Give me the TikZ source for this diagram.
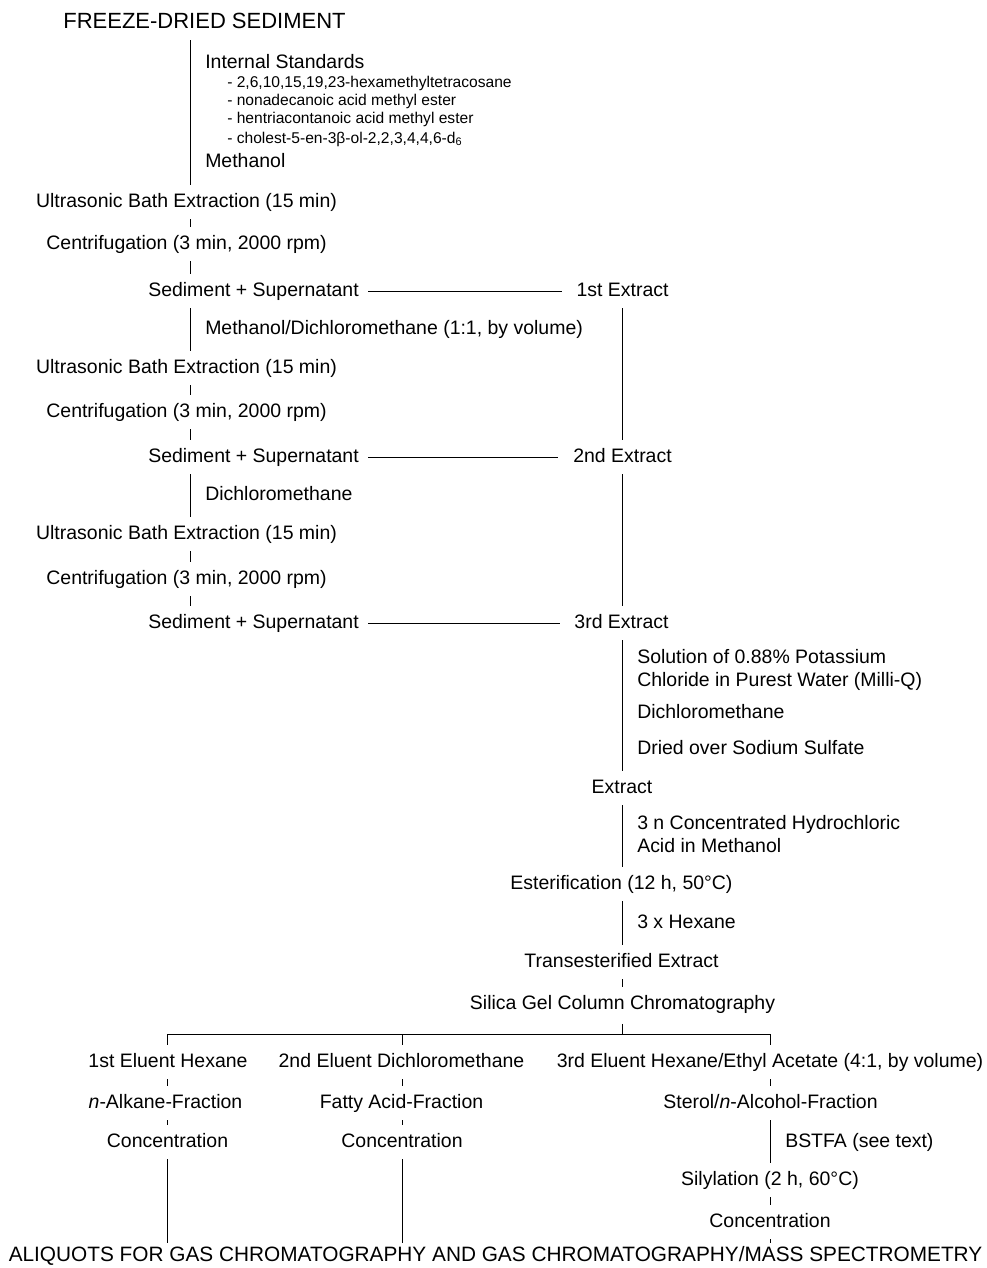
\documentclass[tikz,border=0pt]{standalone}
\usepackage{fontspec}
\setmainfont{Liberation Sans}
\newcommand\mainsz{\fontsize{14.6pt}{17pt}\selectfont}
\newcommand\capsz{\fontsize{15.6pt}{18pt}\selectfont}
\newcommand\titlesz{\fontsize{16.5pt}{19pt}\selectfont}
\newcommand\smallsz{\fontsize{11.7pt}{14pt}\selectfont}
\tikzset{
  t/.style={inner sep=0pt, font=\mainsz, text height=10.5pt, text depth=3pt},
  tc/.style={t, font=\capsz},
  s/.style={inner sep=0pt, font=\smallsz, anchor=west},
  conn/.style={draw, line width=0.6pt, shorten <=6pt, shorten >=6pt},
  hlink/.style={draw, line width=0.6pt, shorten <=7pt, shorten >=11pt},
  plain/.style={draw, line width=0.6pt}
}
\begin{document}
\begin{tikzpicture}[x=0.75pt, y=-0.75pt]
\useasboundingbox (0,0) rectangle (987,1268);
\begin{scope}[shift={(0,2)}]
\coordinate (L) at (190,0);
\coordinate (R) at (622,0);
\coordinate (C1) at (167,0);
\coordinate (C2) at (402,0);
\coordinate (C3) at (770,0);

\node[t, font=\titlesz] (fds) at (204.5,21) {FREEZE-DRIED SEDIMENT};
\node[t, anchor=west] (is) at (205,61) {Internal Standards};
\node[s] (is1) at (227,81) {- 2,6,10,15,19,23-hexamethyltetracosane};
\node[s] (is2) at (227,99) {- nonadecanoic acid methyl ester};
\node[s] (is3) at (227,117) {- hentriacontanoic acid methyl ester};
\node[s] (is4) at (227,137) {- cholest-5-en-3β-ol-2,2,3,4,4,6-d\textsubscript{6}};
\node[t, anchor=west] (meoh) at (205,160) {Methanol};
\node[t] (ub1) at (186.5,200) {Ultrasonic Bath Extraction (15 min)};
\node[t] (cf1) at (186.5,242) {Centrifugation (3 min, 2000 rpm)};
\node[t, anchor=west] (ss1) at (148,289) {Sediment + Supernatant};
\node[t] (e1) at (622.5,289) {1st Extract};
\node[t, anchor=west] (md) at (205,327) {Methanol/Dichloromethane (1:1, by volume)};
\node[t] (ub2) at (186.5,366) {Ultrasonic Bath Extraction (15 min)};
\node[t] (cf2) at (186.5,410) {Centrifugation (3 min, 2000 rpm)};
\node[t, anchor=west] (ss2) at (148,455) {Sediment + Supernatant};
\node[t] (e2) at (622.5,455) {2nd Extract};
\node[t, anchor=west] (dcm1) at (205,493) {Dichloromethane};
\node[t] (ub3) at (186.5,532) {Ultrasonic Bath Extraction (15 min)};
\node[t] (cf3) at (186.5,577) {Centrifugation (3 min, 2000 rpm)};
\node[t, anchor=west] (ss3) at (148,621) {Sediment + Supernatant};
\node[t] (e3) at (621.5,621) {3rd Extract};
\node[t, anchor=west] (kcl1) at (637,656) {Solution of 0.88\% Potassium};
\node[t, anchor=west] (kcl2) at (637,679) {Chloride in Purest Water (Milli-Q)};
\node[t, anchor=west] (dcm2) at (637,711) {Dichloromethane};
\node[t, anchor=west] (dry) at (637,747) {Dried over Sodium Sulfate};
\node[t] (ext) at (622,786) {Extract};
\node[t, anchor=west] (hcl1) at (637,822) {3 n Concentrated Hydrochloric};
\node[t, anchor=west] (hcl2) at (637,845) {Acid in Methanol};
\node[t] (est) at (621.5,882) {Esterification (12 h, 50°C)};
\node[t, anchor=west] (hex) at (637,921) {3 x Hexane};
\node[t] (tre) at (621.5,960) {Transesterified Extract};
\node[t] (sil) at (622.5,1002) {Silica Gel Column Chromatography};
\node[t] (el1) at (168,1060) {1st Eluent Hexane};
\node[t] (el2) at (401.5,1060) {2nd Eluent Dichloromethane};
\node[t] (el3) at (770,1060) {3rd Eluent Hexane/Ethyl Acetate (4:1, by volume)};
\node[t] (fr1) at (165.5,1101) {\textit{n}-Alkane-Fraction};
\node[t] (fr2) at (401.5,1101) {Fatty Acid-Fraction};
\node[t] (fr3) at (770.5,1101) {Sterol/\textit{n}-Alcohol-Fraction};
\node[t] (co1) at (167.5,1140) {Concentration};
\node[t] (co2) at (402,1140) {Concentration};
\node[t, anchor=west] (bst) at (785,1140) {BSTFA (see text)};
\node[t] (sly) at (770,1178) {Silylation (2 h, 60°C)};
\node[t] (co3) at (770,1220) {Concentration};
\node[tc] (aliq) at (495.5,1254) {ALIQUOTS FOR GAS CHROMATOGRAPHY AND GAS CHROMATOGRAPHY/MASS SPECTROMETRY};

% left column
\path[conn] (fds.south -| L) -- (ub1.north -| L);
\path[conn] (ub1.south -| L) -- (cf1.north -| L);
\path[conn] (cf1.south -| L) -- (ss1.north -| L);
\path[conn] (ss1.south -| L) -- (ub2.north -| L);
\path[conn] (ub2.south -| L) -- (cf2.north -| L);
\path[conn] (cf2.south -| L) -- (ss2.north -| L);
\path[conn] (ss2.south -| L) -- (ub3.north -| L);
\path[conn] (ub3.south -| L) -- (cf3.north -| L);
\path[conn] (cf3.south -| L) -- (ss3.north -| L);
% horizontal links
\path[hlink] (ss1.east) -- (e1.west);
\path[hlink] (ss2.east) -- (e2.west);
\path[hlink] (ss3.east) -- (e3.west);
% right column
\path[conn] (e1.south -| R) -- (e2.north -| R);
\path[conn] (e2.south -| R) -- (e3.north -| R);
\path[conn] (e3.south -| R) -- (ext.north -| R);
\path[conn] (ext.south -| R) -- (est.north -| R);
\path[conn] (est.south -| R) -- (tre.north -| R);
\path[conn] (tre.south -| R) -- (sil.north -| R);
% branching
\coordinate (bar) at (622,1032);
\path[plain, shorten <=8pt] (sil.south -| R) -- (bar);
\path[plain] (C1 |- bar) -- (C3 |- bar);
\path[plain, shorten >=6pt] (C1 |- bar) -- (el1.north -| C1);
\path[plain, shorten >=6pt] (C2 |- bar) -- (el2.north -| C2);
\path[plain, shorten >=6pt] (C3 |- bar) -- (el3.north -| C3);
% fraction columns
\path[conn] (el1.south -| C1) -- (fr1.north -| C1);
\path[conn] (fr1.south -| C1) -- (co1.north -| C1);
\path[conn, shorten >=2.5pt] (co1.south -| C1) -- (aliq.north -| C1);
\path[conn] (el2.south -| C2) -- (fr2.north -| C2);
\path[conn] (fr2.south -| C2) -- (co2.north -| C2);
\path[conn, shorten >=2.5pt] (co2.south -| C2) -- (aliq.north -| C2);
\path[conn] (el3.south -| C3) -- (fr3.north -| C3);
\path[conn] (fr3.south -| C3) -- (sly.north -| C3);
\path[conn] (sly.south -| C3) -- (co3.north -| C3);
\path[conn, shorten >=2.5pt] (co3.south -| C3) -- (aliq.north -| C3);
\end{scope}
\end{tikzpicture}
\end{document}
